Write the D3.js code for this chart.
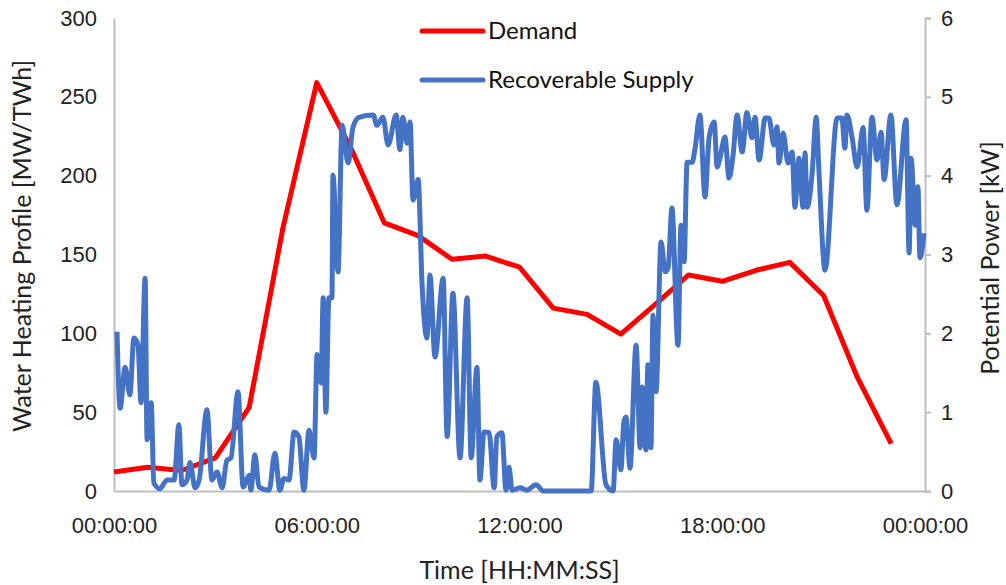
<!DOCTYPE html>
<html>
<head>
<meta charset="utf-8">
<script src="https://cdn.jsdelivr.net/npm/d3@7"></script>
<style>
body { margin: 0; background: #fff; }
svg { font-family: Lato, 'Open Sans', sans-serif; }
.tick text { fill: #222; font-size: 22px; }
.domain { stroke: #bfbfbf; stroke-width: 2px; }
.tick line { stroke: #bfbfbf; stroke-width: 2px; }
</style>
</head>
<body>
<svg id="chart"></svg>
<script>
'use strict';
//Demand, one value per hour [MW/TWh].
const demandHours = [0, 1, 2, 3, 4, 5, 6, 7, 8, 9, 10, 11, 12, 13, 14, 15, 16, 17, 18, 19, 20, 21, 22, 23];
const demand = [12, 15, 13, 21, 53, 167, 259, 218, 170, 162, 147, 149, 142, 116, 112, 99.5, 118, 137, 133, 140, 145, 124, 72, 30];
//Recoverable supply [hours, kW].
const supplyHours = [0.09, 0.18, 0.33, 0.47, 0.59, 0.71, 0.80, 0.92, 0.98, 1.10, 1.18, 1.36, 1.57, 1.78, 1.92, 2.01,
	2.16, 2.25, 2.40, 2.52, 2.75, 2.90, 3.05, 3.20, 3.34, 3.46, 3.67, 3.82, 4.00, 4.05, 4.17, 4.29, 4.59, 4.76, 4.91,
	5.03, 5.18, 5.33, 5.47, 5.62, 5.77, 5.92, 6.01, 6.13, 6.19, 6.27, 6.36, 6.45, 6.48, 6.63, 6.75, 6.93, 7.07, 7.25,
	7.67, 7.78, 7.96, 8.11, 8.35, 8.46, 8.55, 8.67, 8.76, 8.85, 9.00, 9.12, 9.26, 9.35, 9.50, 9.74, 9.86, 10.03, 10.24,
	10.45, 10.57, 10.74, 10.83, 10.95, 11.10, 11.25, 11.33, 11.48, 11.60, 11.69, 11.78, 12.02, 12.22, 12.49, 12.70,
	14.12, 14.26, 14.56, 14.77, 14.86, 15.00, 15.09, 15.15, 15.27, 15.45, 15.57, 15.63, 15.74, 15.80, 15.89, 15.95,
	16.04, 16.19, 16.31, 16.40, 16.51, 16.69, 16.78, 16.87, 16.96, 17.11, 17.19, 17.34, 17.49, 17.61, 17.76, 17.85,
	17.93, 18.08, 18.20, 18.32, 18.44, 18.59, 18.73, 18.88, 18.97, 19.09, 19.27, 19.38, 19.53, 19.62, 19.68, 19.80,
	19.95, 20.07, 20.15, 20.27, 20.39, 20.45, 20.51, 20.66, 20.78, 20.86, 21.04, 21.40, 21.54, 21.63, 21.69, 21.84,
	21.99, 22.17, 22.28, 22.43, 22.58, 22.70, 22.79, 22.99, 23.17, 23.44, 23.53, 23.59, 23.71, 23.79, 23.85, 23.97];
const supply = [2.02, 1.05, 1.57, 1.22, 1.94, 1.85, 1.12, 2.70, 0.65, 1.12, 0.10, 0.03, 0.14, 0.14, 0.84, 0.08,
	0.14, 0.36, 0.04, 0.14, 1.03, 0.14, 0.24, 0.04, 0.39, 0.42, 1.26, 0.05, 0.20, 0.01, 0.46, 0.05, 0.01, 0.48, 0.01,
	0.16, 0.14, 0.75, 0.69, 0.01, 0.77, 0.42, 1.73, 1.37, 2.45, 1.00, 2.45, 2.45, 4.01, 2.78, 4.64, 4.16, 4.61, 4.74,
	4.77, 4.64, 4.74, 4.39, 4.77, 4.33, 4.74, 4.41, 4.68, 3.69, 3.95, 2.59, 1.94, 2.74, 1.70, 2.70, 0.69, 2.51, 0.42,
	2.45, 0.42, 1.57, 0.14, 0.75, 0.74, 0.04, 0.69, 0.74, 0.01, 0.30, 0.01, 0.04, 0.01, 0.08, 0,
	0, 1.38, 0.08, 0, 0.65, 0.27, 0.88, 0.94, 0.29, 1.85, 0.55, 1.32, 0.52, 1.60, 0.55, 2.23,
	1.26, 3.16, 2.78, 2.83, 3.59, 1.85, 3.37, 2.91, 4.17, 4.17, 4.33, 4.77, 3.73, 4.48, 4.68, 4.11,
	4.22, 4.49, 3.97, 4.26, 4.77, 4.30, 4.80, 4.48, 4.74, 4.20, 4.73, 4.73, 4.39, 4.62, 4.16, 4.54,
	4.16, 4.30, 3.60, 4.22, 3.60, 4.29, 3.60, 4.03, 4.74, 4.07, 2.80, 4.73, 4.73, 4.35, 4.77, 4.49,
	4.11, 4.61, 3.56, 4.74, 4.20, 4.55, 3.95, 4.77, 3.63, 4.71, 3.02, 4.22, 3.37, 3.86, 2.96, 3.27];
//Axis ticks and labels.
const xTicks = [0, 6, 12, 18, 24];
const xTickLabels = ['00:00:00', '06:00:00', '12:00:00', '18:00:00', '00:00:00'];
const leftTicks = [0, 50, 100, 150, 200, 250, 300];
const rightTicks = [0, 1, 2, 3, 4, 5, 6];

const width = 1006;
const height = 585;
const m = {top: 18, right: 81, bottom: 94, left: 114};
const svg = d3.select('#chart').attr('width', width).attr('height', height);

const x = d3.scaleLinear().domain([0, 24]).range([m.left, width - m.right]);
const yL = d3.scaleLinear().domain([0, 300]).range([height - m.bottom, m.top]);
const yR = d3.scaleLinear().domain([0, 6]).range([height - m.bottom, m.top]);

//Axes.
svg.append('g')
	.attr('transform', `translate(0,${height - m.bottom})`)
	.call(d3.axisBottom(x).tickValues(xTicks).tickSize(0).tickPadding(26)
		.tickFormat((d, i) => xTickLabels[i]));
svg.append('g')
	.attr('transform', `translate(${m.left},0)`)
	.call(d3.axisLeft(yL).tickValues(leftTicks).tickSize(0).tickPadding(17));
svg.append('g')
	.attr('transform', `translate(${width - m.right},0)`)
	.call(d3.axisRight(yR).tickValues(rightTicks).tickSize(6).tickPadding(10)
		.tickFormat(d3.format('d')));

//Lines, supply drawn last so it sits on top.
svg.append('path')
	.datum(demand)
	.attr('fill', 'none')
	.attr('stroke', '#ff0000')
	.attr('stroke-width', 5)
	.attr('stroke-linejoin', 'round')
	.attr('d', d3.line().x((d, i) => x(demandHours[i])).y(d => yL(d)));
svg.append('path')
	.datum(supply)
	.attr('fill', 'none')
	.attr('stroke', '#4472c4')
	.attr('stroke-width', 5)
	.attr('stroke-linejoin', 'round')
	.attr('d', d3.line().curve(d3.curveMonotoneX).x((d, i) => x(supplyHours[i])).y(d => yR(d)));

//Legend.
const legend = [
	{name: 'Demand', color: '#ff0000', y: 31},
	{name: 'Recoverable Supply', color: '#4472c4', y: 80}
];
legend.forEach(l => {
	svg.append('line')
		.attr('x1', 422).attr('x2', 483)
		.attr('y1', l.y).attr('y2', l.y)
		.attr('stroke', l.color)
		.attr('stroke-width', 5)
		.attr('stroke-linecap', 'round');
	svg.append('text')
		.attr('x', 488).attr('y', l.y)
		.attr('dy', '0.35em')
		.style('font-size', '24px')
		.style('fill', '#111')
		.text(l.name);
});

//Axis titles.
svg.append('text')
	.attr('x', (m.left + width - m.right) / 2)
	.attr('y', 570)
	.attr('dy', '0.35em')
	.attr('text-anchor', 'middle')
	.style('font-size', '25px')
	.style('fill', '#222')
	.text('Time [HH:MM:SS]');
svg.append('text')
	.attr('transform', 'translate(22,246) rotate(-90)')
	.attr('dy', '0.35em')
	.attr('text-anchor', 'middle')
	.style('font-size', '25px')
	.style('fill', '#222')
	.text('Water Heating Profile [MW/TWh]');
svg.append('text')
	.attr('transform', 'translate(990,258) rotate(-90)')
	.attr('dy', '0.35em')
	.attr('text-anchor', 'middle')
	.style('font-size', '25px')
	.style('fill', '#222')
	.text('Potential Power [kW]');
</script>
</body>
</html>
